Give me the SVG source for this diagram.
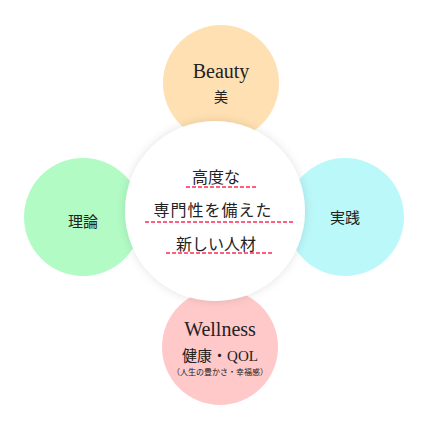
<svg xmlns="http://www.w3.org/2000/svg" width="428" height="431" viewBox="0 0 428 431">
  <defs>
    <filter id="shadow" x="-20%" y="-20%" width="140%" height="140%">
      <feDropShadow dx="0" dy="0" stdDeviation="5" flood-color="#000" flood-opacity="0.12"/>
    </filter>
  </defs>
  <style>
    text { font-family: "Liberation Serif", "Noto Sans CJK JP", serif; fill: #222; text-anchor: middle; }
    .jp { font-size: 15px; }
    .main { font-size: 16px; }
    .ul { stroke: #ff5f7e; stroke-width: 2; stroke-dasharray: 4 2; fill: none; }
  </style>
  <rect width="428" height="431" fill="#fff"/>
  <g id="beauty">
    <circle cx="221" cy="83" r="58" fill="#ffe0b2"/>
    <text x="221" y="78" style="font-size:20px">Beauty</text>
    <text x="221" y="102" class="jp" style="font-size:14px">美</text>
  </g>
  <g id="theory">
    <circle cx="83" cy="217" r="59" fill="#b2fbc5"/>
    <text x="83" y="227" class="jp">理論</text>
  </g>
  <g id="practice">
    <circle cx="345" cy="217" r="59" fill="#bbf8fa"/>
    <text x="345" y="223" class="jp">実践</text>
  </g>
  <g id="wellness">
    <circle cx="220" cy="347" r="58" fill="#ffc9c9"/>
    <text x="220" y="336" style="font-size:20px">Wellness</text>
    <text x="220" y="361" style="font-size:15px">健康・QOL</text>
    <text x="220" y="375" style="font-size:8px">（人生の豊かさ・幸福感）</text>
  </g>
  <g id="center">
    <circle cx="215" cy="211" r="90" fill="#fff" filter="url(#shadow)"/>
    <text x="216" y="183" class="main">高度な</text>
    <line x1="186" y1="187" x2="257" y2="187" class="ul"/>
    <text x="213" y="216" class="main" style="letter-spacing:1px">専門性を備えた</text>
    <line x1="145" y1="222" x2="293" y2="222" class="ul"/>
    <text x="216" y="250" class="main">新しい人材</text>
    <line x1="166" y1="253" x2="272" y2="253" class="ul"/>
  </g>
  <g id="connectors"/>
</svg>
